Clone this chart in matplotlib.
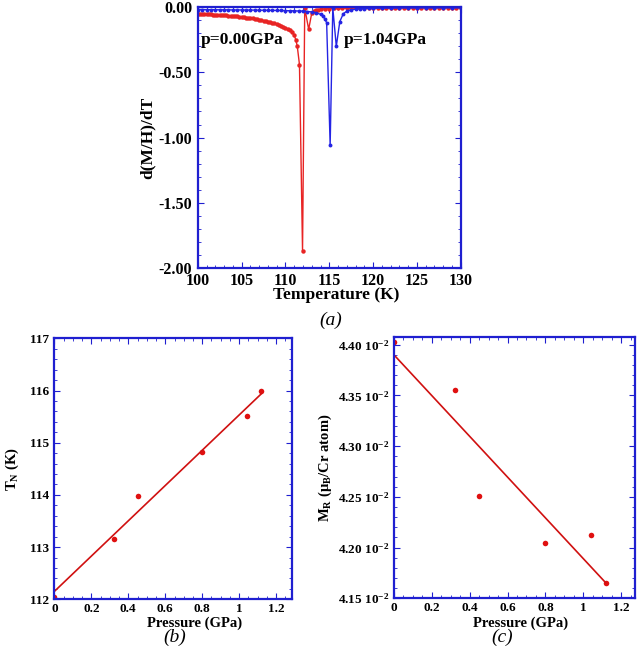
"""
Recreates the three-panel figure: d(M/H)/dT vs temperature at two pressures,
and T_N and M_R vs pressure with linear fits.
"""

import matplotlib
matplotlib.use('Agg')
import matplotlib.pyplot as plt
import numpy as np
from matplotlib.ticker import MultipleLocator, FuncFormatter, FormatStrFormatter

# Panel (a): p = 0.00 GPa
temp_p0 = [100.0, 100.25, 100.5, 100.75, 101.0, 101.25, 101.5, 101.75, 102.0, 102.25,
           102.5, 102.75, 103.0, 103.25, 103.5, 103.75, 104.0, 104.25, 104.5, 104.75,
           105.0, 105.25, 105.5, 105.75, 106.0, 106.25, 106.5, 106.75, 107.0, 107.25,
           107.5, 107.75, 108.0, 108.25, 108.5, 108.75, 109.0, 109.25, 109.5, 109.75,
           110.0, 110.25, 110.5, 110.75, 111.0, 111.2, 111.35, 111.6, 111.95, 112.2,
           112.65, 113.0, 113.25, 113.5, 113.75, 114.0, 114.5, 115.0, 115.5, 116.0,
           116.5, 117.0, 117.5, 118.0, 118.5, 119.0, 119.5, 120.0, 120.5, 121.0,
           121.5, 122.0, 122.5, 123.0, 123.5, 124.0, 124.5, 125.0, 125.5, 126.0,
           126.5, 127.0, 127.5, 128.0, 128.5, 129.0, 129.5, 130.0]
dmdt_p0 = [-0.050, -0.051, -0.052, -0.052, -0.053, -0.054, -0.055, -0.056, -0.057, -0.058,
           -0.059, -0.060, -0.062, -0.063, -0.064, -0.066, -0.067, -0.069, -0.071, -0.073,
           -0.075, -0.077, -0.079, -0.081, -0.084, -0.086, -0.089, -0.092, -0.095, -0.099,
           -0.103, -0.107, -0.111, -0.115, -0.120, -0.125, -0.130, -0.136, -0.142, -0.150,
           -0.158, -0.166, -0.175, -0.190, -0.212, -0.255, -0.300, -0.440, -1.870, -0.005,
           -0.170, -0.045, -0.030, -0.022, -0.018, -0.015, -0.012, -0.010, -0.009, -0.008,
           -0.008, -0.007, -0.007, -0.007, -0.006, -0.006, -0.006, -0.006, -0.006, -0.006,
           -0.005, -0.005, -0.005, -0.005, -0.005, -0.005, -0.005, -0.005, -0.005, -0.005,
           -0.005, -0.005, -0.005, -0.005, -0.005, -0.005, -0.005, -0.005]

# Panel (a): p = 1.04 GPa
temp_p1 = [100.0, 100.5, 101.0, 101.5, 102.0, 102.5, 103.0, 103.5, 104.0, 104.5,
           105.0, 105.5, 106.0, 106.5, 107.0, 107.5, 108.0, 108.5, 109.0, 109.5,
           110.0, 110.5, 111.0, 111.5, 112.0, 112.5, 113.0, 113.5, 114.0, 114.3,
           114.5, 114.7, 115.1, 115.4, 115.8, 116.2, 116.6, 117.0, 117.5, 118.0,
           118.5, 119.0, 119.5, 120.0, 121.0, 122.0, 123.0, 124.0, 125.0, 126.0,
           127.0, 128.0, 129.0, 130.0]
dmdt_p1 = [-0.018, -0.018, -0.019, -0.019, -0.019, -0.020, -0.020, -0.020, -0.021, -0.021,
           -0.021, -0.022, -0.022, -0.022, -0.023, -0.023, -0.024, -0.024, -0.025, -0.025,
           -0.026, -0.027, -0.028, -0.029, -0.030, -0.033, -0.036, -0.042, -0.055, -0.070,
           -0.090, -0.120, -1.060, -0.005, -0.300, -0.110, -0.050, -0.030, -0.020, -0.015,
           -0.012, -0.010, -0.009, -0.008, -0.007, -0.007, -0.006, -0.006, -0.006, -0.005,
           -0.005, -0.005, -0.005, -0.005]

# Panels (b) and (c)
pressure = [0.0, 0.32, 0.45, 0.80, 1.04, 1.12]
t_neel = [112.04, 113.16, 113.98, 114.83, 115.51, 116.00]
m_rem = [0.04403, 0.04355, 0.04251, 0.04205, 0.04212, 0.04165]

SPINE_BLUE = '#1f1fd0'
FONT = 'Liberation Serif'

plt.rcParams['font.family'] = [FONT, 'DejaVu Serif']
plt.rcParams['font.weight'] = 'bold'
plt.rcParams['axes.labelweight'] = 'bold'
plt.rcParams['axes.unicode_minus'] = False
plt.rcParams['mathtext.fontset'] = 'custom'
plt.rcParams['mathtext.rm'] = FONT + ':bold'
plt.rcParams['mathtext.it'] = FONT + ':bold'
plt.rcParams['mathtext.default'] = 'rm'


def style_axes(ax, size, xpad, ypad):
    for sp in ax.spines.values():
        sp.set_color(SPINE_BLUE)
        sp.set_linewidth(1.6)
    ax.tick_params(which='both', direction='in', top=True, right=True,
                   color=SPINE_BLUE, labelsize=size)
    ax.tick_params(axis='x', which='major', pad=xpad)
    ax.tick_params(axis='y', which='major', pad=ypad)
    ax.tick_params(which='major', length=4, width=0.8)
    ax.tick_params(which='minor', length=2, width=0.6)


fig = plt.figure(figsize=(6.4, 6.55), dpi=100)

# (a)
ax_a = fig.add_axes([0.309, 0.591, 0.411, 0.398])
ax_a.plot(temp_p0, dmdt_p0, color='#e82424', lw=1.0, marker='o', ms=3.2, mew=0)
ax_a.plot(temp_p1, dmdt_p1, color='#2424e4', lw=1.0, marker='o', ms=2.8, mew=0)
ax_a.set_xlim(100, 130)
ax_a.set_ylim(-2.0, 0.0)
ax_a.xaxis.set_major_locator(MultipleLocator(5))
ax_a.xaxis.set_minor_locator(MultipleLocator(1))
ax_a.yaxis.set_major_locator(MultipleLocator(0.5))
ax_a.yaxis.set_minor_locator(MultipleLocator(0.1))
ax_a.yaxis.set_major_formatter(FormatStrFormatter('%.2f'))
style_axes(ax_a, 11.5, 3.5, 4)
ax_a.set_xlabel('Temperature (K)', fontsize=12.5)
ax_a.xaxis.set_label_coords(0.525, -0.075)
ax_a.set_ylabel('d(M/H)/dT', fontsize=12.5, labelpad=2)
ax_a.text(100.3, -0.25, 'p=0.00GPa', fontsize=12.5, va='center', ha='left')
ax_a.text(116.6, -0.25, 'p=1.04GPa', fontsize=12.5, va='center', ha='left')
fig.text(0.516, 0.511, '(a)', fontsize=14, style='italic', weight='normal',
         ha='center', va='center')

# (b)
ax_b = fig.add_axes([0.085, 0.085, 0.371, 0.3985])
ax_b.plot(pressure, t_neel, 'o', color='#e01010', ms=4, mew=0)
fit_b = np.polyfit(pressure, t_neel, 1)
xs = np.array([pressure[0], pressure[-1]])
ax_b.plot(xs, np.polyval(fit_b, xs), color='#d01010', lw=1.2)
ax_b.set_xlim(0, 1.285)
ax_b.set_ylim(112, 117)
ax_b.xaxis.set_major_locator(MultipleLocator(0.2))
ax_b.xaxis.set_minor_locator(MultipleLocator(0.05))
ax_b.yaxis.set_major_locator(MultipleLocator(1))
ax_b.yaxis.set_minor_locator(MultipleLocator(0.2))
ax_b.xaxis.set_major_formatter(FuncFormatter(lambda v, p: f'{v:g}'))
style_axes(ax_b, 9.5, 2.5, 4)
ax_b.set_xlabel('Pressure (GPa)', fontsize=10.5)
ax_b.xaxis.set_label_coords(0.59, -0.064)
ax_b.set_ylabel('T$_N$ (K)', fontsize=10.5, labelpad=6)
fig.text(0.273, 0.027, '(b)', fontsize=14, style='italic', weight='normal',
         ha='center', va='center')

# (c)
ax_c = fig.add_axes([0.6156, 0.0866, 0.377, 0.3994])
ax_c.plot(pressure, m_rem, 'o', color='#e01010', ms=4, mew=0)
fit_c = np.polyfit(pressure, m_rem, 1)
ax_c.plot(xs, np.polyval(fit_c, xs), color='#d01010', lw=1.2)
ax_c.set_xlim(0, 1.275)
ax_c.set_ylim(0.0415, 0.04408)
ax_c.xaxis.set_major_locator(MultipleLocator(0.2))
ax_c.xaxis.set_minor_locator(MultipleLocator(0.05))
ax_c.yaxis.set_major_locator(MultipleLocator(0.0005))
ax_c.yaxis.set_minor_locator(MultipleLocator(0.0001))
ax_c.xaxis.set_major_formatter(FuncFormatter(lambda v, p: f'{v:g}'))
ax_c.yaxis.set_major_formatter(FuncFormatter(lambda v, p: f'{v * 100:.2f} 10$^{{-2}}$'))
style_axes(ax_c, 9.5, 2.5, 3)
ax_c.set_xlabel('Pressure (GPa)', fontsize=10.5)
ax_c.xaxis.set_label_coords(0.523, -0.068)
ax_c.set_ylabel('M$_R$ ($\\mu_B$/Cr atom)', fontsize=10.5, labelpad=3)
fig.text(0.784, 0.027, '(c)', fontsize=14, style='italic', weight='normal',
         ha='center', va='center')

fig.savefig('out.png', dpi=100)
